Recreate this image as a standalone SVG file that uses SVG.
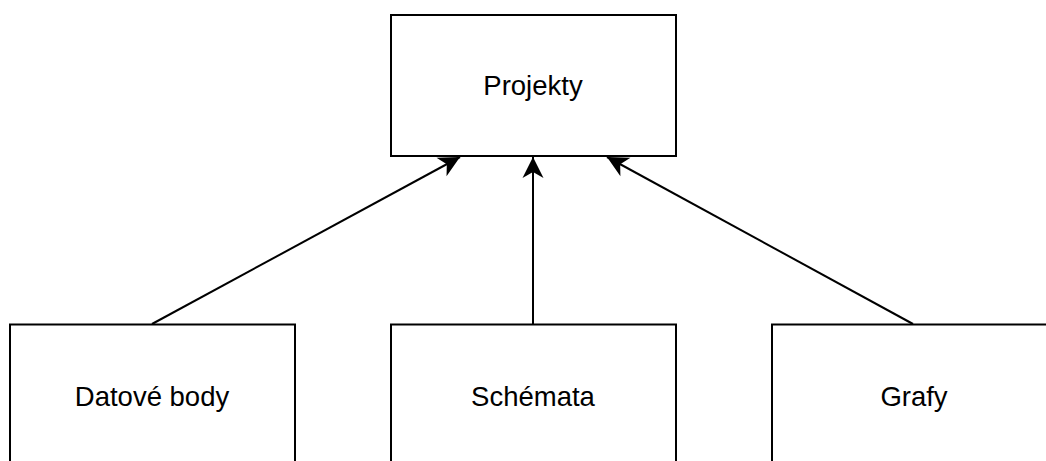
<svg xmlns="http://www.w3.org/2000/svg" width="1046" height="461" viewBox="0 0 1046 461">
  <style>
    .box { fill: #ffffff; stroke: #000000; stroke-width: 2; }
    .label { font-family: "Liberation Sans", Arial, sans-serif; font-size: 27.5px; fill: #000000; text-anchor: middle; }
    .edge { fill: none; stroke: #000000; stroke-width: 2; }
  </style>
  <defs>
    <marker id="arrow" markerUnits="userSpaceOnUse" markerWidth="24" markerHeight="24" viewBox="-22 -12 24 24" refX="0" refY="0" orient="auto">
      <path d="M0,0 L-21,-10.5 L-15,0 L-21,10.5 Z" fill="#000000"/>
    </marker>
  </defs>
  <rect width="1046" height="461" fill="#ffffff"/>

  <g id="connectors">
    <line class="edge" x1="152" y1="324" x2="460" y2="157" marker-end="url(#arrow)"/>
    <line class="edge" x1="533" y1="324" x2="533" y2="157" marker-end="url(#arrow)"/>
    <line class="edge" x1="913" y1="324" x2="607" y2="157" marker-end="url(#arrow)"/>
  </g>

  <g id="projekty">
    <rect class="box" x="391" y="15" width="285" height="141"/>
    <text class="label" x="533" y="94.5">Projekty</text>
  </g>
  <g id="datove-body">
    <rect class="box" x="10" y="324.5" width="285" height="160"/>
    <text class="label" x="152" y="406">Datové body</text>
  </g>
  <g id="schemata">
    <rect class="box" x="391" y="324.5" width="285" height="160"/>
    <text class="label" x="533" y="406">Schémata</text>
  </g>
  <g id="grafy">
    <rect class="box" x="772" y="324.5" width="285" height="160"/>
    <text class="label" x="914" y="406">Grafy</text>
  </g>
</svg>
